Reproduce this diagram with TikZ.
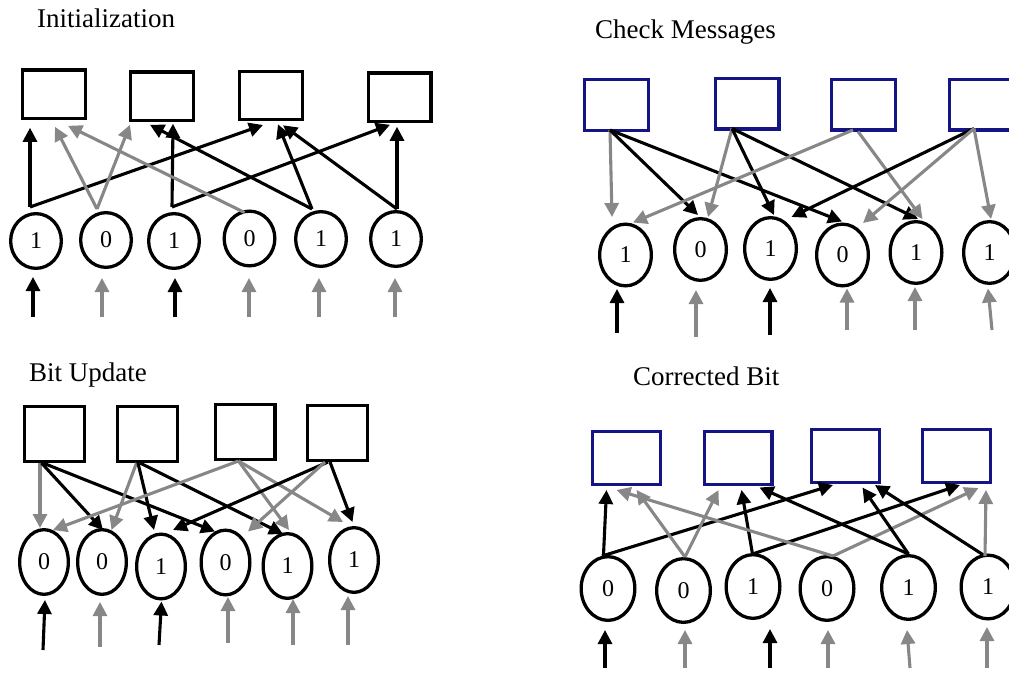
\documentclass[tikz,border=0pt]{standalone}
\usepackage{fontspec}
\setmainfont{Liberation Serif}
\usetikzlibrary{arrows.meta,shapes.geometric}
\definecolor{edgegray}{RGB}{135,135,135}
\definecolor{checkblue}{RGB}{20,20,130}

\begin{document}
\begin{tikzpicture}[x=1pt,y=-1pt,
  chk/.style={draw, line width=3.3pt, inner sep=0pt},
  chkA/.style={chk, minimum width=62.7pt, minimum height=48.3pt},
  chkB/.style={chk, draw=checkblue, minimum width=63.7pt, minimum height=50.7pt},
  chkC/.style={chk, minimum width=59.7pt, minimum height=54.7pt},
  chkD/.style={chk, draw=checkblue, minimum width=67.7pt, minimum height=52.7pt},
  var/.style={draw, ellipse, line width=3.3pt, inner sep=0pt,
    font=\fontsize{24}{24}\selectfont},
  varA/.style={var, minimum width=50.7pt, minimum height=54.7pt},
  varB/.style={var, minimum width=51.7pt, minimum height=61.7pt},
  varC/.style={var, minimum width=48.7pt, minimum height=64.7pt},
  varD/.style={var, minimum width=53.7pt, minimum height=63.7pt},
  bk/.style={line width=3.1pt, -{Triangle[length=14pt,width=14pt]}},
  gy/.style={bk, edgegray},
  title/.style={anchor=base west, inner sep=0pt, font=\fontsize{27}{30}\selectfont}]

\useasboundingbox (0,0) rectangle (1009,672);
\clip (0,0) rectangle (1009,672);

% ---------------- Initialization ----------------
\node[title] (t1) at (37,27) {Initialization};
\node[chkA] (ia1) at (54,94) {};
\node[chkA] (ia2) at (162,96) {};
\node[chkA] (ia3) at (271,95.5) {};
\node[chkA] (ia4) at (399.5,97) {};
\node[varA] (iv1) at (36,241) {1};
\node[varA] (iv2) at (106,240) {0};
\node[varA] (iv3) at (174,241) {1};
\node[varA] (iv4) at (249.5,238.5) {0};
\node[varA] (iv5) at (321,239) {1};
\node[varA] (iv6) at (396,239) {1};

\draw[bk] ([shift={(-6pt,5pt)}]iv1.north) -- ([shift={(-24pt,-8pt)}]ia1.south);
\draw[bk] ([shift={(-6pt,5pt)}]iv1.north) -- ([shift={(-8pt,-3.7pt)}]ia3.south);
\draw[gy] ([shift={(-9pt,2pt)}]iv2.north) -- ([shift={(1pt,-7pt)}]ia1.south);
\draw[gy] ([shift={(-9pt,2pt)}]iv2.north) -- ([shift={(-32pt,-3pt)}]ia2.south);
\draw[bk] ([shift={(-2pt,5pt)}]iv3.north) -- ([shift={(11pt,-2pt)}]ia2.south);
\draw[bk] ([shift={(-2pt,5pt)}]iv3.north) -- ([shift={(-9.5pt,-2pt)}]ia4.south);
\draw[gy] ([shift={(-5pt,-3pt)}]iv4.north) -- ([shift={(14pt,-6pt)}]ia1.south);
\draw[bk] ([shift={(-9pt,1pt)}]iv5.north) -- ([shift={(-12pt,-3pt)}]ia2.south);
\draw[bk] ([shift={(-9pt,1pt)}]iv5.north) -- ([shift={(7pt,-3pt)}]ia3.south);
\draw[bk] ([shift={(1pt,1pt)}]iv6.north) -- ([shift={(12pt,-4pt)}]ia3.south);
\draw[bk] ([shift={(1pt,1pt)}]iv6.north) -- ([shift={(-2.5pt,-4pt)}]ia4.south);

\coordinate (it1) at (33,317);
\coordinate (it2) at (102,317);
\coordinate (it3) at (175,317);
\coordinate (it4) at (249,317);
\coordinate (it5) at (319,317);
\coordinate (it6) at (395,317);
\draw[bk] (it1) -- ([shift={(-3pt,-7pt)}]iv1.south);
\draw[gy] (it2) -- ([shift={(-4pt,-9pt)}]iv2.south);
\draw[bk] (it3) -- ([shift={(1pt,-8pt)}]iv3.south);
\draw[gy] (it4) -- ([shift={(-0.5pt,-10.5pt)}]iv4.south);
\draw[gy] (it5) -- ([shift={(-2pt,-10pt)}]iv5.south);
\draw[gy] (it6) -- ([shift={(-1pt,-10pt)}]iv6.south);

% ---------------- Check Messages ----------------
\node[title] (t2) at (595,38) {Check Messages};
\node[chkB] (ma1) at (616.5,105) {};
\node[chkB] (ma2) at (747,103.5) {};
\node[chkB] (ma3) at (863.5,104.5) {};
\node[chkB] (ma4) at (981.5,104.5) {};
\node[varB] (mv1) at (625.5,255) {1};
\node[varB] (mv2) at (700.5,249.5) {0};
\node[varB] (mv3) at (770.5,248.5) {1};
\node[varB] (mv4) at (842.5,255) {0};
\node[varB] (mv5) at (916,252.5) {1};
\node[varB] (mv6) at (989.5,252.5) {1};

\draw[gy] ([shift={(-6.5pt,2pt)}]ma1.south) -- ([shift={(-13.5pt,5.5pt)}]mv1.north);
\draw[bk] ([shift={(-6.5pt,2pt)}]ma1.south) -- ([shift={(-2.5pt,2pt)}]mv2.north);
\draw[bk] ([shift={(-6.5pt,2pt)}]ma1.south) -- ([shift={(-0.5pt,1pt)}]mv4.north);
\draw[gy] ([shift={(-15pt,2pt)}]ma2.south) -- ([shift={(7.5pt,0pt)}]mv2.north);
\draw[bk] ([shift={(-15pt,2pt)}]ma2.south) -- ([shift={(3.5pt,1pt)}]mv3.north);
\draw[bk] ([shift={(-15pt,2pt)}]ma2.south) -- ([shift={(2pt,1pt)}]mv5.north);
\draw[gy] ([shift={(-10.5pt,1.5pt)}]ma3.south) -- ([shift={(7.5pt,0pt)}]mv1.north);
\draw[gy] ([shift={(-5.5pt,0pt)}]ma3.south) -- ([shift={(6.5pt,1pt)}]mv5.north);
\draw[bk] ([shift={(-7.5pt,3pt)}]ma4.south) -- ([shift={(21pt,-1pt)}]mv3.north);
\draw[gy] ([shift={(-7.5pt,3pt)}]ma4.south) -- ([shift={(20.5pt,-0.5pt)}]mv4.north);
\draw[gy] ([shift={(-7.5pt,3pt)}]ma4.south) -- ([shift={(1.5pt,1pt)}]mv6.north);

\coordinate (mt1) at (617,333);
\coordinate (mt2) at (696,336.5);
\coordinate (mt3) at (770,335);
\coordinate (mt4) at (847,330);
\coordinate (mt5) at (915,330);
\coordinate (mt6) at (992,330);
\draw[bk] (mt1) -- ([shift={(-8.5pt,-1.5pt)}]mv1.south);
\draw[gy] (mt2) -- ([shift={(-4.5pt,-8pt)}]mv2.south);
\draw[bk] (mt3) -- ([shift={(-0.5pt,-7pt)}]mv3.south);
\draw[gy] (mt4) -- ([shift={(4.5pt,-1pt)}]mv4.south);
\draw[gy] (mt5) -- ([shift={(-1pt,-2pt)}]mv5.south);
\draw[gy] (mt6) -- ([shift={(-1.5pt,-3.5pt)}]mv6.south);

% ---------------- Bit Update ----------------
\node[title] (t3) at (29,381) {Bit Update};
\node[chkC] (ua1) at (54.5,434) {};
\node[chkC] (ua2) at (147.5,434) {};
\node[chkC] (ua3) at (245,432) {};
\node[chkC] (ua4) at (337.5,433) {};
\node[varC] (uv1) at (44,562) {0};
\node[varC] (uv2) at (102,562) {0};
\node[varC] (uv3) at (161,566.5) {1};
\node[varC] (uv4) at (225.5,562.5) {0};
\node[varC] (uv5) at (287.5,566) {1};
\node[varC] (uv6) at (354,560) {1};

\draw[gy] ([shift={(-14.5pt,0pt)}]ua1.south) -- ([shift={(-4pt,0pt)}]uv1.north);
\draw[bk] ([shift={(-13pt,0pt)}]ua1.south) -- ([shift={(1pt,-2pt)}]uv2.north);
\draw[bk] ([shift={(-11.5pt,0pt)}]ua1.south) -- ([shift={(-10.5pt,-3pt)}]uv4.north);
\draw[gy] ([shift={(-11pt,0pt)}]ua2.south) -- ([shift={(9.5pt,-2pt)}]uv2.north);
\draw[bk] ([shift={(-9.5pt,0pt)}]ua2.south) -- ([shift={(-7pt,2.5pt)}]uv3.north);
\draw[bk] ([shift={(-7.5pt,0pt)}]ua2.south) -- ([shift={(-4.5pt,-2pt)}]uv5.north);
\draw[gy] ([shift={(-6.5pt,0pt)}]ua3.south) -- ([shift={(9pt,-2pt)}]uv1.north);
\draw[gy] ([shift={(-6.5pt,0pt)}]ua3.south) -- ([shift={(1.5pt,2pt)}]uv5.north);
\draw[gy] ([shift={(-6.5pt,0pt)}]ua3.south) -- ([shift={(-11pt,4pt)}]uv6.north);
\draw[bk] ([shift={(-9.5pt,0pt)}]ua4.south) -- ([shift={(12pt,2.5pt)}]uv3.north);
\draw[gy] ([shift={(-12.5pt,0pt)}]ua4.south) -- ([shift={(22.5pt,-3pt)}]uv4.north);
\draw[bk] ([shift={(-7.5pt,0pt)}]ua4.south) -- ([shift={(-1.5pt,4pt)}]uv6.north);

\coordinate (ut1) at (43,650);
\coordinate (ut2) at (100,647);
\coordinate (ut3) at (159,645);
\coordinate (ut4) at (228,643);
\coordinate (ut5) at (293,645);
\coordinate (ut6) at (348,645);
\draw[bk] (ut1) -- ([shift={(1pt,-4pt)}]uv1.south);
\draw[gy] (ut2) -- ([shift={(-2pt,-6pt)}]uv2.south);
\draw[bk] (ut3) -- ([shift={(0.5pt,-1pt)}]uv3.south);
\draw[gy] (ut4) -- ([shift={(2.5pt,-0.5pt)}]uv4.south);
\draw[gy] (ut5) -- ([shift={(5.5pt,1pt)}]uv5.south);
\draw[gy] (ut6) -- ([shift={(-6pt,-2pt)}]uv6.south);

% ---------------- Corrected Bit ----------------
\node[title] (t4) at (633,385) {Corrected Bit};
\node[chkD] (ca1) at (626.5,458) {};
\node[chkD] (ca2) at (738,458) {};
\node[chkD] (ca3) at (845.5,456) {};
\node[chkD] (ca4) at (956.5,456) {};
\node[varD] (cv1) at (608,588.5) {0};
\node[varD] (cv2) at (683.5,590.5) {0};
\node[varD] (cv3) at (753,586.5) {1};
\node[varD] (cv4) at (827,588.5) {0};
\node[varD] (cv5) at (908.5,587.5) {1};
\node[varD] (cv6) at (988,587) {1};

\draw[bk] ([shift={(-4.5pt,0pt)}]cv1.north) -- ([shift={(-20pt,-4pt)}]ca1.south);
\draw[bk] ([shift={(-6pt,-1pt)}]cv1.north) -- ([shift={(-12.5pt,-1pt)}]ca3.south);
\draw[gy] ([shift={(1.5pt,0pt)}]cv2.north) -- ([shift={(10pt,-4pt)}]ca1.south);
\draw[gy] ([shift={(1.5pt,0pt)}]cv2.north) -- ([shift={(-19.5pt,-4pt)}]ca2.south);
\draw[bk] ([shift={(-0.5pt,-1pt)}]cv3.north) -- ([shift={(3.5pt,-4pt)}]ca2.south);
\draw[bk] ([shift={(-0.5pt,-1pt)}]cv3.north) -- ([shift={(3.5pt,-1pt)}]ca4.south);
\draw[gy] ([shift={(6pt,-1pt)}]cv4.north) -- ([shift={(-10pt,-4pt)}]ca1.south);
\draw[gy] ([shift={(6pt,-1pt)}]cv4.north) -- ([shift={(22pt,-4pt)}]ca4.south);
\draw[bk] (cv5.north) -- ([shift={(21.5pt,-1.5pt)}]ca2.south);
\draw[bk] (cv5.north) -- ([shift={(17pt,-3.5pt)}]ca3.south);
\draw[bk] ([shift={(-3pt,-2.5pt)}]cv6.north) -- ([shift={(29.5pt,-1pt)}]ca3.south);
\draw[gy] ([shift={(-3pt,-2.5pt)}]cv6.north) -- ([shift={(29.5pt,-6pt)}]ca4.south);

\coordinate (ct1) at (605,668);
\coordinate (ct2) at (685,668);
\coordinate (ct3) at (770,668);
\coordinate (ct4) at (828,668);
\coordinate (ct5) at (910,668);
\coordinate (ct6) at (987,668);
\draw[bk] (ct1) -- ([shift={(-3pt,-8pt)}]cv1.south);
\draw[gy] (ct2) -- ([shift={(1.5pt,-6pt)}]cv2.south);
\draw[bk] (ct3) -- ([shift={(17pt,-9pt)}]cv3.south);
\draw[gy] (ct4) -- ([shift={(1pt,-8pt)}]cv4.south);
\draw[gy] (ct5) -- ([shift={(-1.5pt,-9pt)}]cv5.south);
\draw[gy] (ct6) -- ([shift={(-1pt,-6.5pt)}]cv6.south);
\end{tikzpicture}
\end{document}
